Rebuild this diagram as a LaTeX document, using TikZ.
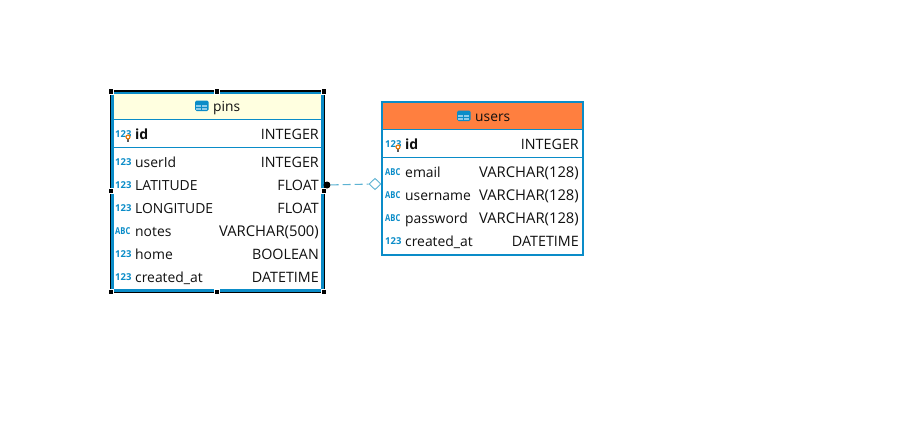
\documentclass[tikz,border=0pt]{standalone}
\usepackage{fontspec}
\usepackage{graphicx}
\setmainfont{Open Sans}
\usetikzlibrary{shapes.geometric}
\definecolor{erblue}{HTML}{0A8CC8}
\definecolor{cream}{HTML}{FFFFE0}
\definecolor{hdorange}{HTML}{FF7F3F}
\definecolor{linkblue}{HTML}{5DB3D3}
\definecolor{ink}{HTML}{101010}
\definecolor{cellblue}{HTML}{8CCBEA}
\newcommand{\wide}[1]{{\fontsize{14.8}{16}\selectfont #1}}
\newcommand{\abcmark}{\scalebox{.8}[1]{ABC}}
\tikzset{
  x=1pt,y=-1pt,
  box/.style={draw=erblue,fill=white,inner sep=0,outer sep=0,anchor=north west},
  headband/.style={fill=#1,draw=none,inner sep=0,outer sep=0,anchor=north west},
  rule/.style={draw=erblue,line width=1pt},
  colname/.style={anchor=base west,inner sep=0,text=ink,font=\fontsize{13.9}{16}\selectfont},
  coltype/.style={anchor=base east,inner sep=0,text=ink,font=\fontsize{14.3}{16}\selectfont},
  tabtitle/.style={anchor=base west,inner sep=0,text=ink,font=\fontsize{13.8}{16}\selectfont},
  typeicon/.style={anchor=base west,inner sep=0,text=erblue,font=\fontsize{9.5}{10}\selectfont\bfseries},
  handle/.style={fill=black,draw=white,line width=.7pt,minimum size=5.2pt,inner sep=0,shape=rectangle},
  relline/.style={draw=linkblue,line width=1.1pt,dash pattern=on 8pt off 4pt},
  opt/.style={shape=diamond,draw=linkblue,fill=white,line width=.9pt,minimum width=12pt,minimum height=11.5pt,inner sep=0},
  fkdot/.style={shape=circle,fill=black,draw=none,minimum size=7pt,inner sep=0}
}
\newcommand{\colentry}[8]{%
  \node[typeicon] (#1i) at (#2,#5-2.5) {#6};
  \node[colname] (#1n) at (#3,#5) {#7};
  \node[coltype] (#1t) at (#4,#5) {#8};
}
\newcommand{\keymark}[2]{%
  \fill[gray!70!black] (#1-.7,#2+1.5) rectangle (#1+.7,#2+5.2);
  \draw[orange!90!black,line width=1.1pt,fill=white] (#1,#2) circle (2pt);
}
\newcommand{\tableicon}[2]{%
  \fill[erblue,rounded corners=1.5pt] (#1,#2) rectangle (#1+13.5,#2+10.5);
  \fill[cellblue] (#1+1.2,#2+4.2) rectangle (#1+6.3,#2+6.4);
  \fill[cellblue] (#1+7.3,#2+4.2) rectangle (#1+12.3,#2+6.4);
  \fill[cellblue] (#1+1.2,#2+7.3) rectangle (#1+6.3,#2+9.4);
  \fill[cellblue] (#1+7.3,#2+7.3) rectangle (#1+12.3,#2+9.4);
}
\begin{document}
\begin{tikzpicture}
\useasboundingbox (0,0) rectangle (902,428);
% pins table
\node[box,line width=3.2pt,minimum width=210.2pt,minimum height=197.7pt] (pins) at (112.5,92.5) {};
\node[headband=cream,minimum width=207pt,minimum height=25.3pt] (pinshead) at (114,93.8) {};
\draw[black,line width=1.8pt] (111,91) -- (324,91);
\draw[black,line width=1.4pt] (111,292.4) -- (324,292.4);
\draw[black,line width=1pt] (110.5,91) -- (110.5,292);
\draw[black,line width=1pt] (324.8,91) -- (324.8,292);
\draw[rule] (114,119.5) -- (321,119.5);
\draw[rule] (114,147.5) -- (321,147.5);
\tableicon{195}{100.5}
\node[tabtitle] (pinstitle) at (213,111.5) {pins};
\node[typeicon] (p1i) at (115,137) {123};
\node[colname,font=\fontsize{14}{16}\selectfont\bfseries] (p1n) at (135,139.5) {id};
\node[coltype] (p1t) at (319,139.5) {INTEGER};
\keymark{128}{137}
\colentry{p2}{115}{135}{319}{167.5}{123}{userId}{INTEGER}
\colentry{p3}{115}{135}{319}{190.5}{123}{LATITUDE}{FLOAT}
\colentry{p4}{115}{135}{319}{213.5}{123}{LONGITUDE}{FLOAT}
\colentry{p5}{115}{135}{319}{236.5}{\abcmark}{notes}{\wide{VARCHAR(500)}}
\colentry{p6}{115}{135}{319}{259.5}{123}{home}{BOOLEAN}
\colentry{p7}{115}{135}{319}{282.5}{123}{created\_at}{DATETIME}
% selection handles
\foreach \hx/\hy/\hn in {111/91.3/a,217/91.3/b,324/91.3/c,111/190.5/d,324/190.5/e,111/291.7/f,217/291.7/g,324/291.7/h}
  \node[handle] (h\hn) at (\hx,\hy) {};
% users table
\node[box,line width=2pt,minimum width=200.3pt,minimum height=152.6pt] (users) at (382.3,102.1) {};
\node[headband=hdorange,minimum width=198.3pt,minimum height=26pt] (usershead) at (383.3,103) {};
\draw[rule] (383,129.5) -- (582,129.5);
\draw[rule] (383,157.5) -- (582,157.5);
\tableicon{457}{110.5}
\node[tabtitle] (userstitle) at (475,121.5) {users};
\node[typeicon] (u1i) at (385,147) {123};
\node[colname,font=\fontsize{14}{16}\selectfont\bfseries] (u1n) at (405,149.5) {id};
\node[coltype] (u1t) at (579,149.5) {INTEGER};
\keymark{398}{147}
\colentry{u2}{385}{405}{579}{177.5}{\abcmark}{email}{\wide{VARCHAR(128)}}
\colentry{u3}{385}{405}{579}{200.5}{\abcmark}{username}{\wide{VARCHAR(128)}}
\colentry{u4}{385}{405}{579}{223.5}{\abcmark}{password}{\wide{VARCHAR(128)}}
\colentry{u5}{385}{405}{579}{246.5}{123}{created\_at}{DATETIME}
% relation
\node[fkdot] (fk) at (327,185) {};
\node[opt] (optend) at (375,184) {};
\draw[relline] (fk) -- (optend);
\end{tikzpicture}
\end{document}
